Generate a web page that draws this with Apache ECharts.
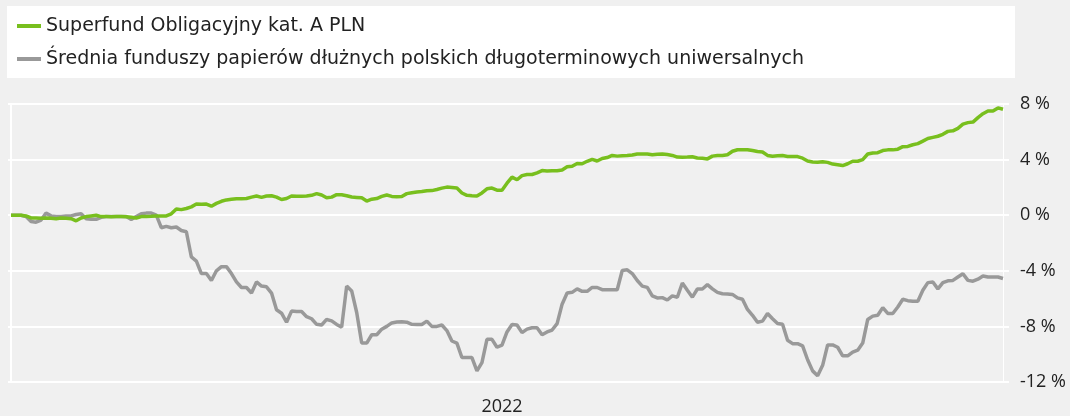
<!DOCTYPE html>
<html>
<head>
<meta charset="utf-8">
<title>Superfund Obligacyjny</title>
<script src="https://cdn.jsdelivr.net/npm/echarts@6/dist/echarts.min.js"></script>
<style>
	html, body { margin: 0; padding: 0; background: #f0f0f0; }
	#chart { width: 1070px; height: 416px; }
</style>
</head>
<body>
<div id="chart"></div>
<script>
// nazwy serii
var seriesNames = ["Superfund Obligacyjny kat. A PLN", "Średnia funduszy papierów dłużnych polskich długoterminowych uniwersalnych"];

// stopa zwrotu funduszu (%)
var fundValues = [
	0, 0, 0, -0.05, -0.2, -0.2, -0.22, -0.2, -0.22, -0.25,
	-0.2, -0.22, -0.25, -0.4, -0.2, -0.1, -0.05, 0, -0.1, -0.1,
	-0.12, -0.1, -0.1, -0.12, -0.15, -0.2, -0.1, -0.1, -0.08, -0.05,
	-0.05, -0.05, 0.1, 0.45, 0.4, 0.48, 0.6, 0.8, 0.78, 0.8,
	0.65, 0.85, 1.0, 1.1, 1.15, 1.19, 1.19, 1.2, 1.3, 1.38,
	1.28, 1.38, 1.4, 1.3, 1.13, 1.2, 1.38, 1.37, 1.36, 1.38,
	1.43, 1.55, 1.45, 1.25, 1.3, 1.48, 1.47, 1.4, 1.31, 1.28,
	1.25, 1.02, 1.15, 1.2, 1.35, 1.45, 1.35, 1.33, 1.35, 1.55,
	1.62, 1.67, 1.7, 1.76, 1.77, 1.85, 1.95, 2.02, 2.0, 1.95,
	1.6, 1.43, 1.4, 1.38, 1.6, 1.9, 1.95, 1.8, 1.8, 2.3,
	2.74, 2.55, 2.85, 2.93, 2.93, 3.05, 3.21, 3.18, 3.2, 3.2,
	3.25, 3.48, 3.52, 3.72, 3.7, 3.88, 4.02, 3.9, 4.08, 4.15,
	4.3, 4.25, 4.28, 4.29, 4.33, 4.4, 4.4, 4.4, 4.35, 4.38,
	4.4, 4.36, 4.3, 4.18, 4.17, 4.18, 4.2, 4.12, 4.1, 4.05,
	4.25, 4.3, 4.3, 4.35, 4.6, 4.71, 4.71, 4.71, 4.65, 4.58,
	4.55, 4.3, 4.24, 4.27, 4.29, 4.23, 4.22, 4.22, 4.1, 3.9,
	3.83, 3.81, 3.84, 3.8, 3.68, 3.63, 3.57, 3.7, 3.88, 3.88,
	4.0, 4.4, 4.48, 4.5, 4.65, 4.7, 4.7, 4.75, 4.93, 4.95,
	5.07, 5.15, 5.33, 5.52, 5.6, 5.68, 5.82, 6.03, 6.07, 6.25,
	6.55, 6.66, 6.7, 7.02, 7.3, 7.5, 7.5, 7.72, 7.62
];

// średnia grupy porównawczej (%)
var avgValues = [
	0, 0, 0, -0.1, -0.45, -0.5, -0.35, 0.15, -0.05, -0.1,
	-0.1, -0.05, -0.05, 0.05, 0.1, -0.25, -0.3, -0.3, -0.15, -0.1,
	-0.1, -0.1, -0.1, -0.1, -0.3, -0.1, 0.1, 0.15, 0.15, 0.0,
	-0.9, -0.8, -0.9, -0.85, -1.1, -1.19, -3.0, -3.3, -4.2, -4.2,
	-4.7, -4.0, -3.7, -3.7, -4.2, -4.8, -5.2, -5.2, -5.6, -4.8,
	-5.1, -5.15, -5.6, -6.8, -7.05, -7.7, -6.9, -6.93, -6.93, -7.3,
	-7.45, -7.85, -7.9, -7.5, -7.6, -7.86, -8.05, -5.1, -5.45, -7.0,
	-9.2, -9.2, -8.6, -8.6, -8.2, -8.0, -7.75, -7.69, -7.67, -7.7,
	-7.85, -7.86, -7.86, -7.62, -8.0, -8.0, -7.9, -8.3, -9.05, -9.2,
	-10.24, -10.24, -10.24, -11.2, -10.6, -8.93, -8.93, -9.5, -9.35, -8.4,
	-7.86, -7.9, -8.45, -8.2, -8.1, -8.1, -8.6, -8.4, -8.26, -7.8,
	-6.4, -5.6, -5.55, -5.3, -5.48, -5.48, -5.2, -5.2, -5.36, -5.36,
	-5.36, -5.36, -3.98, -3.93, -4.2, -4.7, -5.1, -5.19, -5.8, -5.95,
	-5.93, -6.1, -5.8, -5.9, -4.88, -5.4, -5.9, -5.31, -5.31, -5.0,
	-5.3, -5.55, -5.65, -5.67, -5.7, -5.95, -6.05, -6.78, -7.2, -7.7,
	-7.62, -7.07, -7.45, -7.79, -7.85, -9.0, -9.24, -9.24, -9.4, -10.4,
	-11.2, -11.55, -10.8, -9.33, -9.33, -9.5, -10.12, -10.12, -9.85, -9.71,
	-9.2, -7.5, -7.26, -7.2, -6.65, -7.07, -7.07, -6.6, -6.05, -6.15,
	-6.19, -6.19, -5.4, -4.85, -4.81, -5.3, -4.85, -4.72, -4.69, -4.45,
	-4.21, -4.69, -4.75, -4.6, -4.38, -4.45, -4.45, -4.45, -4.55
];

// etykieta osi X i indeks punktu, przy którym stoi
var yearLabel = "2022";
var yearIndex = 98;

// skala osi Y
var yMin = -12, yMax = 8, yStep = 4;

var legendFont = "'DejaVu Sans', sans-serif";
var axisFont = "'Open Sans', sans-serif";

function buildCategories(n) {
	var arr = [];
	for (var i = 0; i < n; i++) {
		arr.push(i == yearIndex ? yearLabel : "");
	}
	return arr;
}

var chart = echarts.init(document.getElementById("chart"));
var categories = buildCategories(fundValues.length);

var option = {
	backgroundColor: "#f0f0f0",
	animation: false,
	graphic: [{
		type: "rect",
		left: 7,
		top: 6,
		z: -1,
		shape: { width: 1008, height: 72 },
		style: { fill: "#ffffff" }
	}],
	legend: {
		orient: "vertical",
		left: 12,
		top: 10,
		itemWidth: 24,
		itemHeight: 4,
		itemGap: 11,
		icon: "rect",
		textStyle: { fontFamily: legendFont, fontSize: 19, color: "#222", lineHeight: 22 },
		data: seriesNames
	},
	grid: { left: 11, right: 67, top: 104, bottom: 33 },
	xAxis: {
		type: "category",
		data: categories,
		boundaryGap: false,
		axisLine: { show: false },
		axisTick: { show: false },
		splitLine: { show: false },
		axisLabel: {
			interval: 0,
			margin: 16,
			fontFamily: axisFont,
			fontSize: 18,
			color: "#222"
		}
	},
	yAxis: [{
		type: "value",
		position: "right",
		min: yMin,
		max: yMax,
		interval: yStep,
		axisLine: { show: true, lineStyle: { color: "#ffffff", width: 1 } },
		axisTick: { show: true, length: 6, lineStyle: { color: "#ffffff", width: 2 } },
		splitLine: { lineStyle: { color: "#ffffff", width: 2 } },
		axisLabel: {
			margin: 17,
			fontFamily: axisFont,
			fontSize: 18,
			color: "#222",
			formatter: function(v) { return v + " %"; }
		}
	}, {
		type: "value",
		position: "left",
		min: yMin,
		max: yMax,
		interval: yStep,
		axisLine: { show: true, lineStyle: { color: "#ffffff", width: 2 } },
		axisTick: { show: true, length: 3, lineStyle: { color: "#ffffff", width: 2 } },
		splitLine: { show: false },
		axisLabel: { show: false }
	}],
	series: [{
		name: seriesNames[0],
		type: "line",
		data: fundValues,
		showSymbol: false,
		z: 3,
		itemStyle: { color: "#78bf1e" },
		lineStyle: { color: "#78bf1e", width: 3.5 }
	}, {
		name: seriesNames[1],
		type: "line",
		data: avgValues,
		showSymbol: false,
		z: 2,
		itemStyle: { color: "#999999" },
		lineStyle: { color: "#999999", width: 3.5 }
	}]
};

chart.setOption(option);
</script>
</body>
</html>
